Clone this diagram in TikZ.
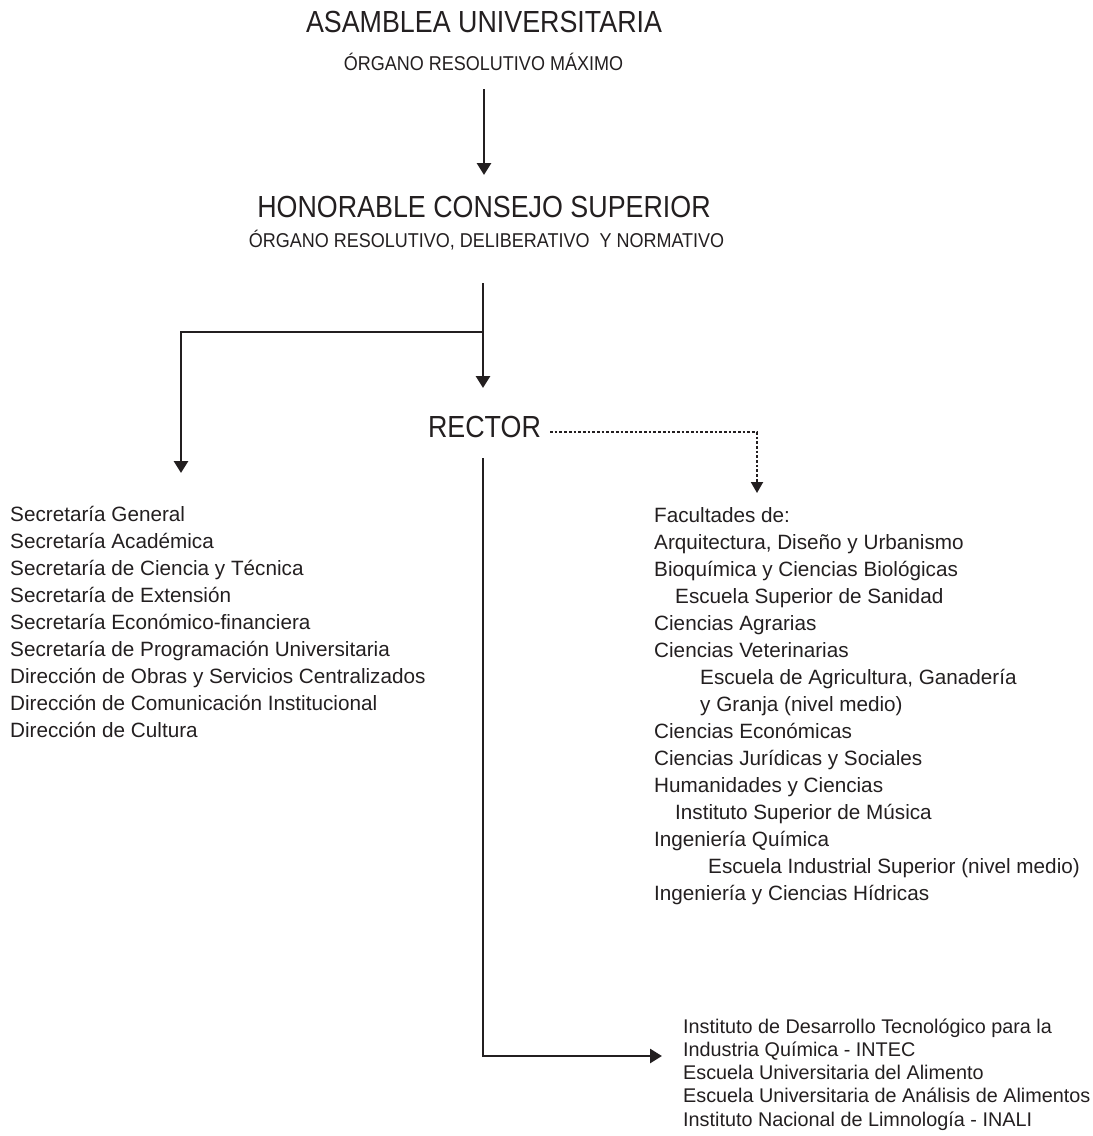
\documentclass[tikz,border=0pt]{standalone}
\usepackage{fontspec}
\setmainfont{Liberation Sans}
\newfontfamily\headfont{Liberation Sans}[FakeStretch=0.88]
\newfontfamily\subfont{Liberation Sans}[FakeStretch=0.9]
\usetikzlibrary{arrows.meta}
\definecolor{ink}{RGB}{35,31,32}
\begin{document}
\begin{tikzpicture}[x=1pt,y=-1pt,
  head/.style={inner sep=0,anchor=base,font=\headfont\fontsize{30.5}{36}\selectfont,text=ink},
  sub/.style={inner sep=0,anchor=base,font=\subfont\fontsize{20}{24}\selectfont,text=ink},
  item/.style={inner sep=0,anchor=base west,font=\fontsize{20.7}{25}\selectfont,text=ink},
  small/.style={inner sep=0,anchor=base west,font=\fontsize{19.8}{24}\selectfont,text=ink},
  conn/.style={draw=ink,line width=2.8pt,-{Triangle[width=14pt,length=12pt]}},
  dots/.style={draw=ink,line width=2pt,dash pattern=on 2.7pt off 2pt,-{Triangle[width=12pt,length=11pt]}},
]
\useasboundingbox (0,0) rectangle (1093,1136);

% headings
\node[head] (asam) at (484,32) {ASAMBLEA UNIVERSITARIA};
\node[sub] (asamsub) at (483.5,70) {ÓRGANO RESOLUTIVO MÁXIMO};
\node[head] (hcs) at (484,217) {HONORABLE CONSEJO SUPERIOR};
\node[sub] (hcssub) at (486.5,247) {ÓRGANO RESOLUTIVO, DELIBERATIVO\ \ Y NORMATIVO};
\node[head] (rector) at (484.5,437) {RECTOR};

% connector points
\coordinate (a1s) at (484,89);
\coordinate (a1e) at (484,175);
\coordinate (a2s) at (483,283);
\coordinate (a2e) at (483,388);
\coordinate (br) at (483,332);
\coordinate (lefte) at (181,473);
\coordinate (ds) at (550,432);
\coordinate (de) at (757,493);
\coordinate (rs) at (483,458);
\coordinate (re) at (662,1056);

\draw[conn] (a1s) -- (a1e);
\draw[conn] (a2s) -- (a2e);
\draw[conn] (br) -| (lefte);
\draw[dots] (ds) -| (de);
\draw[conn] (rs) |- (re);

% left list
\foreach \t [count=\i] in {
  {Secretaría General},
  {Secretaría Académica},
  {Secretaría de Ciencia y Técnica},
  {Secretaría de Extensión},
  {Secretaría Económico-financiera},
  {Secretaría de Programación Universitaria},
  {Dirección de Obras y Servicios Centralizados},
  {Dirección de Comunicación Institucional},
  {Dirección de Cultura}}
  \node[item] (L\i) at (10,{521+27*(\i-1)}) {\t};

% right list
\foreach \x/\t [count=\i] in {
  {654/Facultades de:},
  {654/Arquitectura, Diseño y Urbanismo},
  {654/Bioquímica y Ciencias Biológicas},
  {675/Escuela Superior de Sanidad},
  {654/Ciencias Agrarias},
  {654/Ciencias Veterinarias},
  {700/Escuela de Agricultura, Ganadería},
  {700/y Granja (nivel medio)},
  {654/Ciencias Económicas},
  {654/Ciencias Jurídicas y Sociales},
  {654/Humanidades y Ciencias},
  {675/Instituto Superior de Música},
  {654/Ingeniería Química},
  {708/Escuela Industrial Superior (nivel medio)},
  {654/Ingeniería y Ciencias Hídricas}}
  \node[item] (R\i) at (\x,{522+27*(\i-1)}) {\t};

% bottom list
\foreach \t [count=\i] in {
  {Instituto de Desarrollo Tecnológico para la},
  {Industria Química - INTEC},
  {Escuela Universitaria del Alimento},
  {Escuela Universitaria de Análisis de Alimentos},
  {Instituto Nacional de Limnología - INALI}}
  \node[small] (B\i) at (683,{1033+23.3*(\i-1)}) {\t};
\end{tikzpicture}
\end{document}
